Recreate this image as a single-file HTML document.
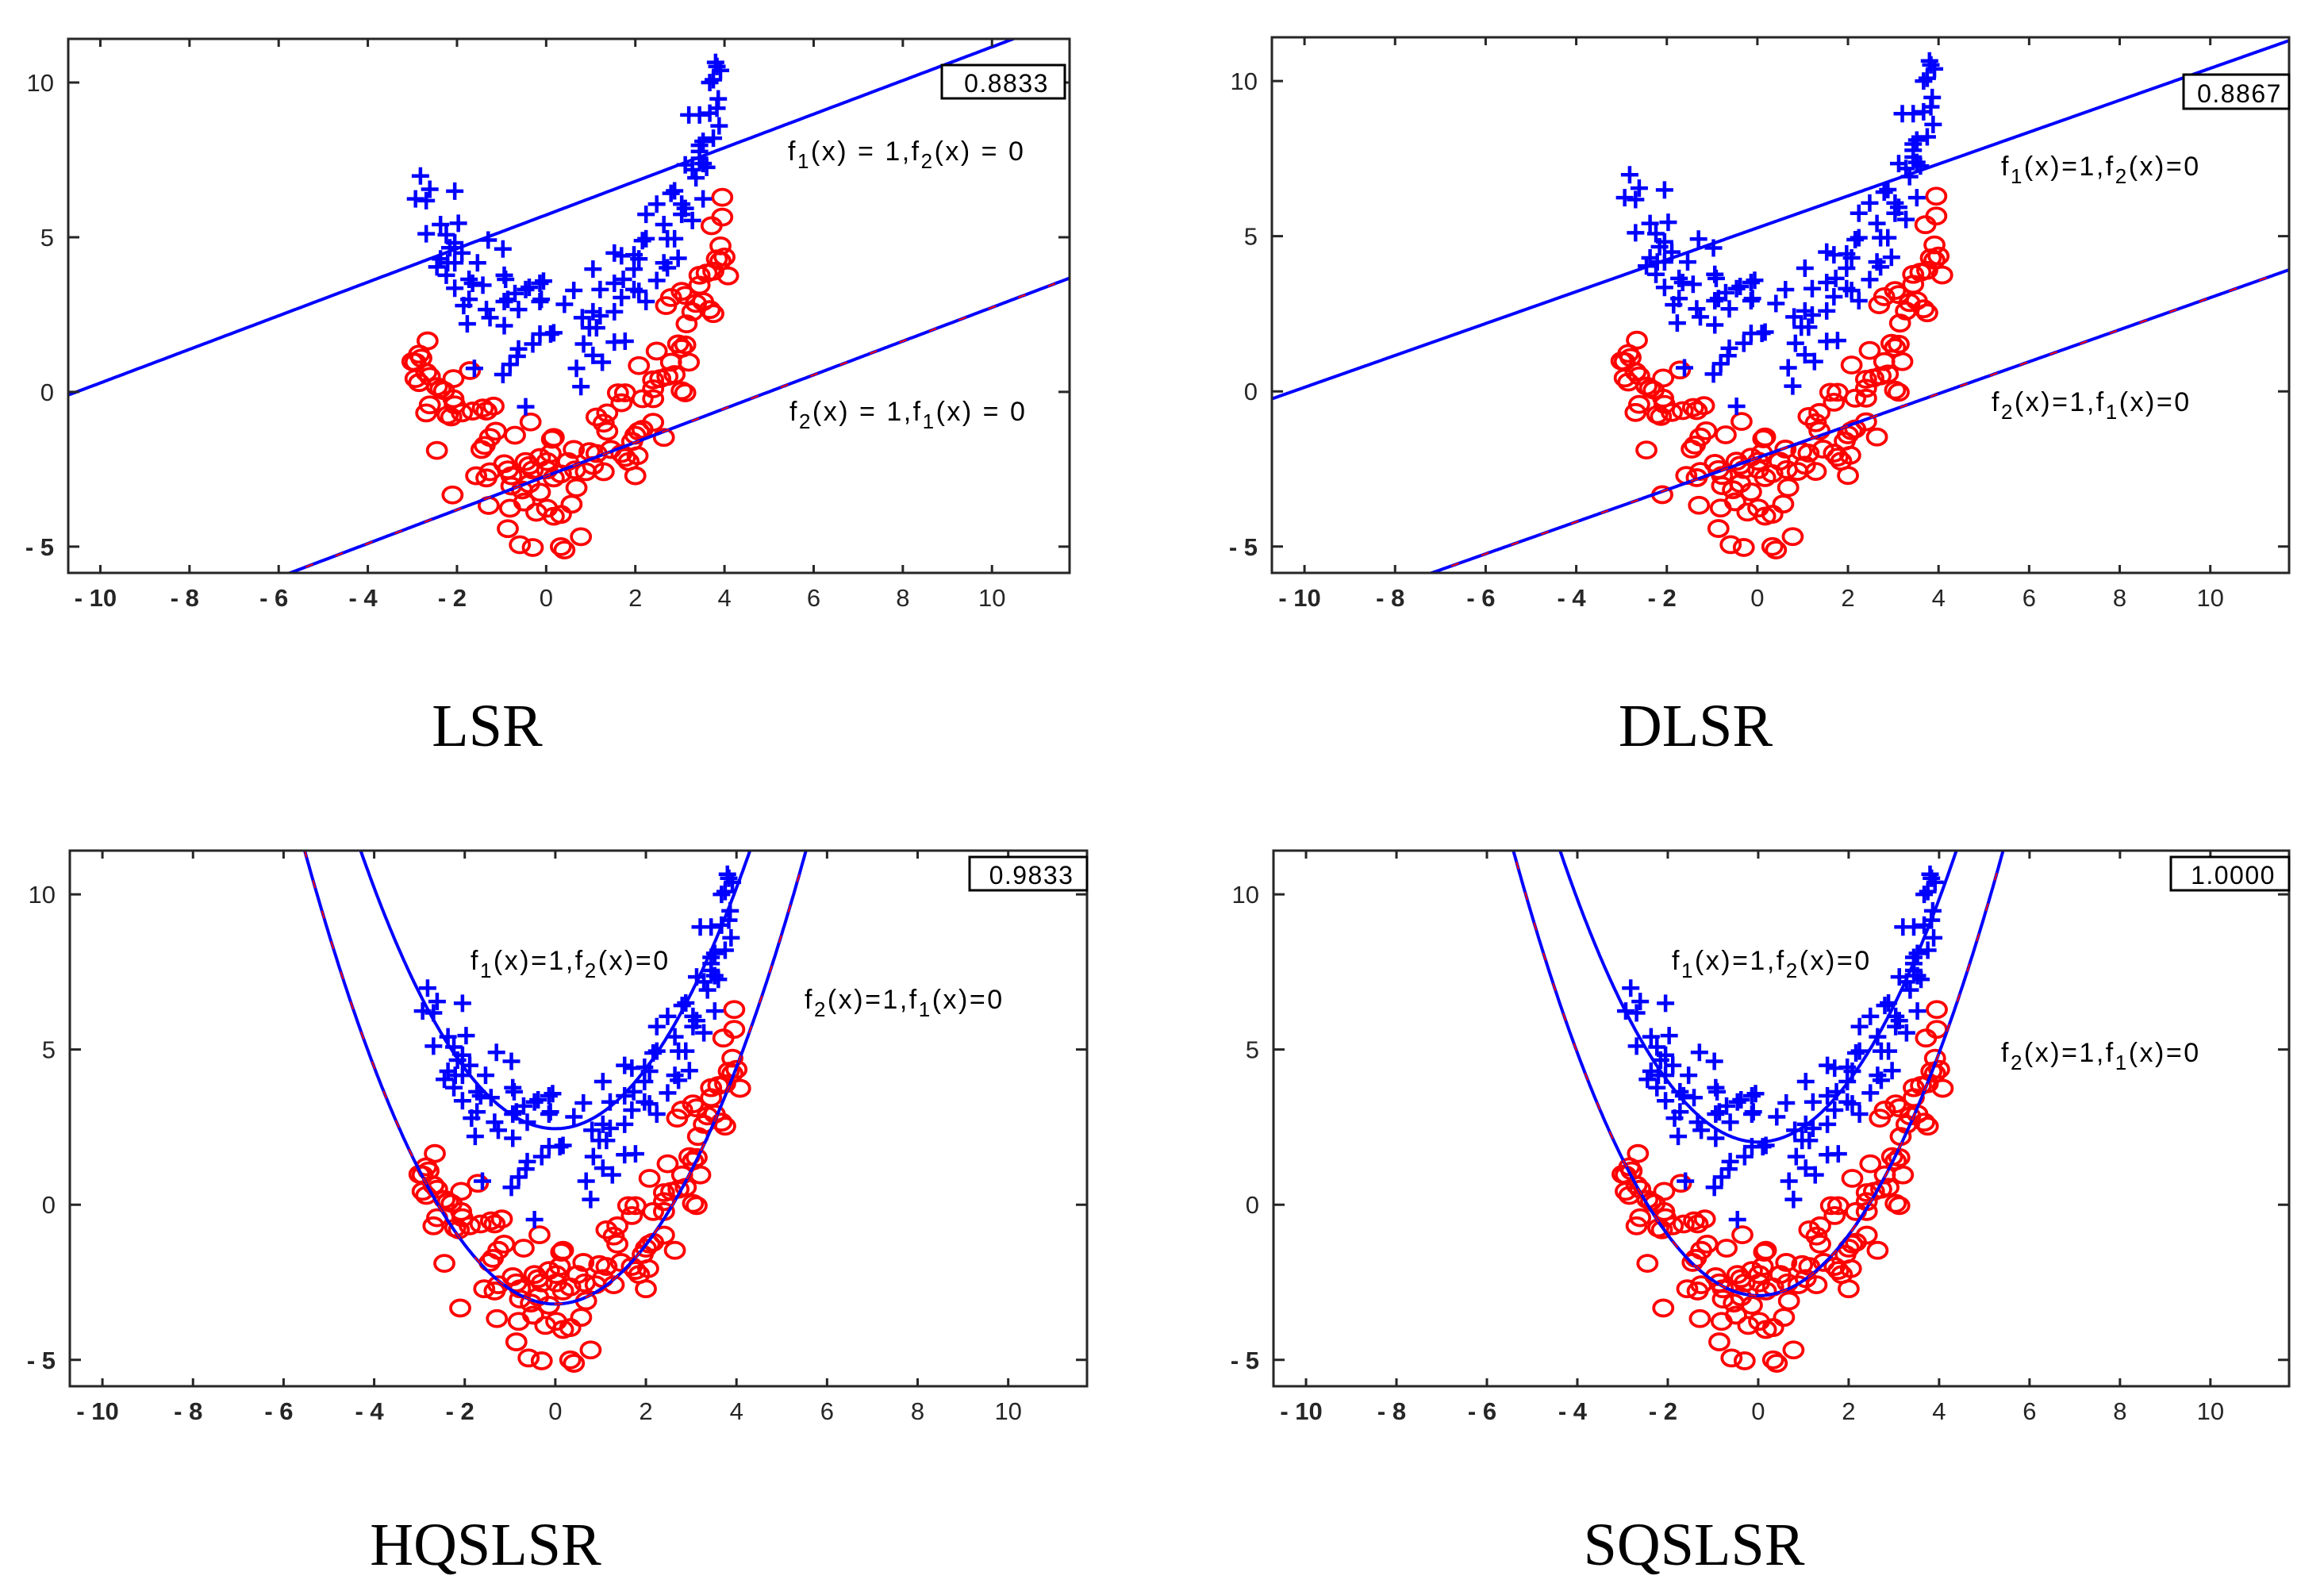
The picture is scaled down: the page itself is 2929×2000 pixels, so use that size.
<!DOCTYPE html>
<html><head><meta charset="utf-8"><style>
html,body{margin:0;padding:0;background:#fff;}
svg{display:block;}
text{font-family:"Liberation Sans",sans-serif;}
.ttl{font-family:"Liberation Serif",serif;font-size:76px;fill:#000;}
</style></head><body>
<svg id="fig" xmlns="http://www.w3.org/2000/svg" width="2929" height="2000" viewBox="0 0 2929 2000"></svg>
<script>
// ---- data ----
const xTicks = [-10,-8,-6,-4,-2,0,2,4,6,8,10];
const yTicks = [-5,0,5,10];
const xTickLabels = ["- 10","- 8","- 6","- 4","- 2","0","2","4","6","8","10"];
const yTickLabels = ["- 5","0","5","10"];
const xDomain = [-10.72, 11.74];
const yDomain = [-5.85, 11.41];
const plusX = [-2.82,-2.93,-2.69,-2.61,-2.05,-2.69,-2.37,-1.97,-2.24,-2.05,-2.16,-1.89,-2.37,-2.21,-2.45,-2.05,-2.24,-2.05,-1.73,-1.65,-1.42,-1.54,-1.3,-0.97,-1.85,-1.73,-1.34,-1.26,-1.77,-0.94,-0.94,-0.91,-0.86,-0.94,-0.62,-0.7,-0.46,-0.38,-0.14,-0.06,-0.11,-0.14,-0.14,0.1,0.17,-0.30,-0.62,-0.65,-0.81,-0.97,-0.46,-1.61,0.41,0.62,0.81,1.05,1.05,1.21,0.97,1.13,1.21,0.84,0.68,0.78,1.05,1.26,1.53,1.53,1.69,1.53,1.73,1.69,1.53,1.77,1.97,2.08,1.97,2.08,1.97,2.24,2.16,2.24,2.24,2.48,2.48,2.64,2.72,2.88,2.64,2.72,2.96,2.8,2.88,3.04,3.12,3.04,3.28,3.12,3.28,3.36,3.44,3.44,3.52,3.44,3.6,3.52,3.52,3.2,3.44,3.67,3.83,3.88,3.75,3.86,3.67,3.75,3.8,3.83,3.91];
const plusY = [6.98,6.24,6.18,6.55,6.49,5.11,5.41,5.45,5.08,4.82,4.66,4.49,4.3,4.17,4.04,4.17,3.77,3.35,3.64,3.51,3.45,4.17,4.91,4.62,2.79,2.99,2.66,2.4,2.2,2.14,3.77,3.64,2.99,2.92,2.66,3.18,3.31,3.38,3.51,3.58,2.99,2.92,1.87,1.87,1.91,1.55,1.39,1.15,0.89,0.56,-0.48,0.76,2.83,3.28,2.4,2.59,3.97,3.31,2.07,2.07,2.46,1.55,0.76,0.17,1.18,0.96,2.59,4.49,4.4,3.51,3.64,3.05,1.61,1.64,4.43,4.3,3.97,3.25,3.31,2.92,4.89,4.95,5.74,3.6,6.07,5.41,4.95,4.95,4.17,4.01,4.32,6.42,6.5,6.07,5.93,5.74,5.54,7.34,7.18,6.92,7.55,7.97,8.1,7.77,7.26,7.38,6.24,8.95,8.95,9.01,9.17,8.6,8.2,9.47,10.0,10.09,10.65,10.52,10.39];
const circX = [-2.66,-2.85,-2.8,-2.93,-3.0,-2.69,-2.61,-2.93,-2.85,-2.37,-2.45,-2.29,-2.69,-2.61,-2.21,-2.13,-2.05,-2.08,-1.71,-2.08,-1.89,-1.65,-1.42,-1.18,-1.34,-2.45,-0.35,-0.70,-1.13,-1.26,-1.38,-1.45,-1.57,-1.34,-1.26,-0.94,-0.86,-0.78,-0.46,-0.38,-0.30,-0.14,0.02,0.1,0.13,0.17,0.02,0.17,0.33,-0.78,-0.54,-0.38,-0.14,0.68,0.57,-0.49,-0.22,0.02,0.17,0.33,-0.81,-1.29,-2.1,-0.86,-0.59,-0.30,0.33,0.41,0.78,0.49,0.65,0.89,1.05,0.62,0.97,1.13,1.29,1.13,1.37,1.29,1.37,1.45,1.69,1.77,1.85,2.0,1.93,2.0,2.08,2.16,2.05,2.4,2.64,1.61,1.77,1.69,2.16,2.4,2.4,2.56,2.4,2.72,2.88,2.08,2.48,2.8,3.04,3.12,3.2,2.96,3.12,3.04,3.15,2.69,2.8,3.04,3.12,3.28,3.36,3.52,3.67,3.75,3.44,3.44,3.6,3.75,4.08,3.91,4.0,3.83,3.91,3.71,3.95,3.95];
const circY = [1.65,1.22,1.09,0.96,0.98,0.63,0.5,0.43,0.3,0.1,0.17,0.04,-0.68,-0.42,-0.75,-0.81,-0.42,-0.22,0.69,0.43,-0.68,-0.62,-0.52,-0.46,-0.62,-1.89,-0.97,-1.4,-1.27,-1.47,-1.73,-1.86,-2.71,-2.78,-2.58,-2.32,-2.52,-2.71,-2.25,-2.38,-2.52,-2.12,-2.25,-1.99,-1.53,-1.47,-2.52,-2.78,-2.65,-3.04,-3.17,-2.97,-3.24,-3.1,-3.63,-3.56,-3.89,-3.76,-4.02,-3.96,-3.76,-3.67,-3.33,-4.42,-4.94,-5.03,-5.0,-5.11,-4.68,-2.25,-2.52,-2.58,-2.38,-1.86,-1.93,-1.99,-2.58,-0.81,-0.68,-1.01,-1.27,-1.86,-1.99,-2.12,-2.25,-2.71,-1.6,-1.4,-1.27,-1.21,-2.06,-0.98,-1.47,-0.03,-0.03,-0.35,-0.22,-0.22,0.1,0.43,0.39,0.5,0.56,0.85,1.32,0.96,0.04,-0.03,0.96,1.55,1.52,1.41,2.2,2.79,3.05,3.25,3.12,2.59,2.86,2.92,2.66,2.53,3.45,3.77,3.84,3.9,3.75,4.23,4.36,4.3,4.72,5.37,5.65,6.29];
const scores = ["0.8833","0.8867","0.9833","1.0000"];
const titles = ["LSR","DLSR","HQSLSR","SQSLSR"];
// linear boundaries: [slope, intercept]
const lineUpper = [[0.543,5.72],[0.514,5.27]];
const lineLower = [[0.545,-2.72],[0.516,-2.14]];
// quadratic boundaries: [vertexY, curvature]
const quadInner = [[2.45,0.485],[2.02,0.489]];
const quadOuter = [[-3.2,0.477],[-2.93,0.489]];

// ---- layout ----
const panels = [
 {l:86,r:1348,t:49,b:722, tx:614, ty:940, box:[1187,82,1342,124], a1:[993,202], a2:[995,530], spaced:true, kind:"line", k:0},
 {l:1603,r:2885,t:47,b:722, tx:2137, ty:940, box:[2752,94,2885,137], a1:[2522,221], a2:[2510,518], spaced:false, kind:"line", k:1},
 {l:88,r:1370,t:1072,b:1747, tx:612, ty:1972, box:[1222,1080,1370,1122], a1:[593,1222], a2:[1014,1271], spaced:false, kind:"quad", k:0},
 {l:1605,r:2885,t:1072,b:1747, tx:2135, ty:1972, box:[2736,1080,2885,1122], a1:[2107,1222], a2:[2522,1338], spaced:false, kind:"quad", k:1}
];
const NS="http://www.w3.org/2000/svg";
const svg=document.getElementById('fig');
function mk(tag,attrs,parent){const e=document.createElementNS(NS,tag);for(const k in attrs)e.setAttribute(k,attrs[k]);(parent||svg).appendChild(e);return e;}

function annot(g,x,y,which,spaced){
  const t=mk('text',{x:x,y:y,'font-size':34,'letter-spacing':2.5,fill:'#000'},g);
  const eq=spaced?' = ':'=';
  const a=which===1?['1','2']:['2','1'];
  const parts=[['f',0],[a[0],1],['(x)'+eq+'1,f',0],[a[1],1],['(x)'+eq+'0',0]];
  parts.forEach(p=>{const s=mk('tspan',{},t);s.textContent=p[0];if(p[1]){s.setAttribute('dy','10');s.setAttribute('font-size','26');}else if(s.previousSibling&&s.previousSibling.getAttribute('dy')==='10'){s.setAttribute('dy','-10');}});
  return t;
}

panels.forEach((P,i)=>{
  const g=mk('g',{});
  
  
  const sx=v=>P.l+(v-xDomain[0])/(xDomain[1]-xDomain[0])*(P.r-P.l);
  const sy=v=>P.b-(v-yDomain[0])/(yDomain[1]-yDomain[0])*(P.b-P.t);
  const cid='clip'+i;
  const cp=mk('clipPath',{id:cid},g);mk('rect',{x:P.l,y:P.t,width:P.r-P.l,height:P.b-P.t},cp);
  const sc=mk('g',{'clip-path':'url(#'+cid+')'},g);
  circX.forEach((x,j)=>{const c=mk('ellipse',{cx:sx(x),cy:sy(circY[j]),rx:12,ry:10,fill:'none',stroke:'#ff0000','stroke-width':3.8},sc);
    
    });
  plusX.forEach((x,j)=>{const X=sx(x),Y=sy(plusY[j]);const p=mk('path',{d:`M${X-11},${Y}H${X+11}M${X},${Y-11}V${Y+11}`,stroke:'#0000ff','stroke-width':4.5,fill:'none'},sc);
    
    });
  const fns=[];
  if(P.kind==='line'){
    const u=lineUpper[P.k],lo=lineLower[P.k];
    fns.push(['upper-boundary',x=>u[0]*x+u[1]],['lower-boundary',x=>lo[0]*x+lo[1]]);
  } else {
    const a=quadInner[P.k],b=quadOuter[P.k];
    fns.push(['inner-boundary',x=>a[0]+a[1]*x*x],['outer-boundary',x=>b[0]+b[1]*x*x]);
  }
  fns.forEach(([nm,f],fi)=>{
    let d='';for(let s=0;s<=600;s++){const x=xDomain[0]+(xDomain[1]-xDomain[0])*s/600;d+=(s?'L':'M')+sx(x).toFixed(1)+','+sy(f(x)).toFixed(1);}
    const pl=mk('path',{d:d,stroke:'#0000ff','stroke-width':4,fill:'none'},sc);
    
    
    if(fi===1){mk('path',{d:d,stroke:'#ff0000','stroke-width':2,fill:'none','stroke-dasharray':'10 30'},sc);}
  });
  const fr=mk('rect',{x:P.l,y:P.t,width:P.r-P.l,height:P.b-P.t,fill:'none',stroke:'#262626','stroke-width':3},g);
  
  
  xTicks.forEach((v,j)=>{const X=sx(v);
    mk('path',{d:`M${X},${P.b}v-10M${X},${P.t}v10`,stroke:'#262626','stroke-width':3},g);
    const t=mk('text',{x:X-(v<0?6:0),y:P.b+42,'font-size':31,'text-anchor':'middle',fill:'#262626','font-weight':v<0?'bold':'normal'},g);
    t.textContent=xTickLabels[j];
    
    });
  yTicks.forEach((v,j)=>{const Y=sy(v);
    mk('path',{d:`M${P.l},${Y}h14M${P.r},${Y}h-14`,stroke:'#262626','stroke-width':3},g);
    const t=mk('text',{x:P.l-18,y:Y+11,'font-size':31,'text-anchor':'end',fill:'#262626','font-weight':v<0?'bold':'normal'},g);
    t.textContent=yTickLabels[j];
    
    });
  const B=P.box;
  const br=mk('rect',{x:B[0],y:B[1],width:B[2]-B[0],height:B[3]-B[1],fill:'#fff',stroke:'#000','stroke-width':3},g);
  
  
  const st=mk('text',{x:(B[0]+B[2])/2+4,y:B[3]-8,'font-size':32,'letter-spacing':1.5,'text-anchor':'middle',fill:'#000'},g);
  st.textContent=scores[i];
  
  
  const a1=annot(g,P.a1[0],P.a1[1],1,P.spaced);
  
  
  const a2=annot(g,P.a2[0],P.a2[1],2,P.spaced);
  
  
  const tt=mk('text',{x:P.tx,y:P.ty,'text-anchor':'middle',class:'ttl'},g);
  tt.textContent=titles[i];
  
  
});
</script>
</body></html>
